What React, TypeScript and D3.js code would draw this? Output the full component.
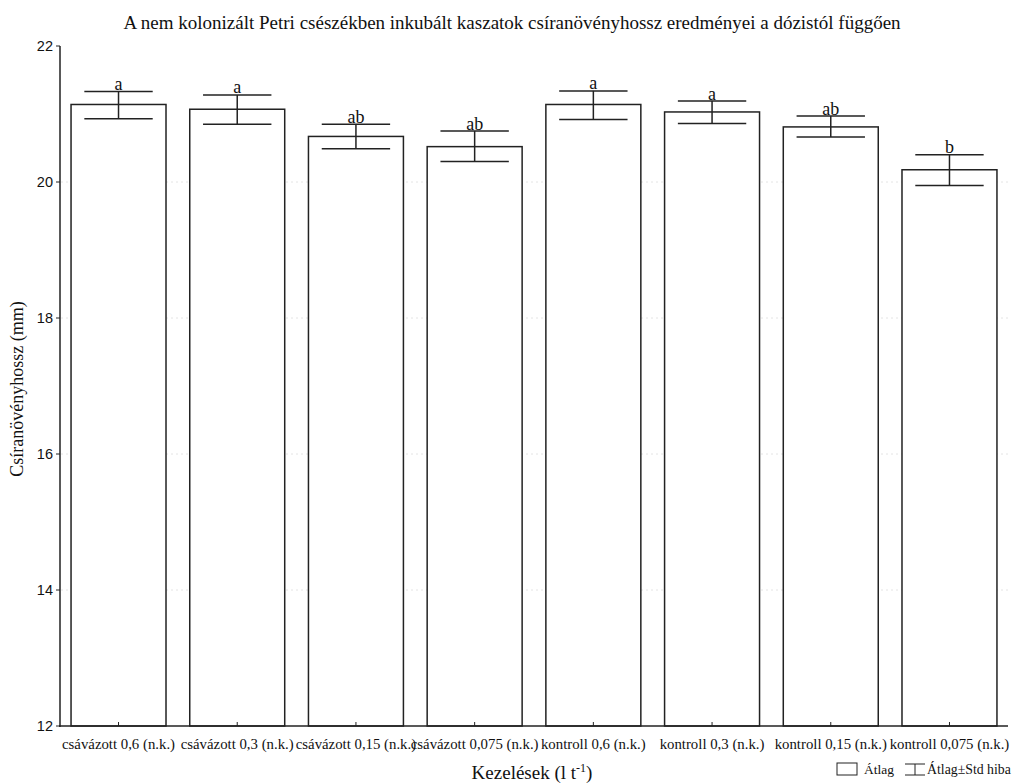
import React from "react";
import * as d3 from "d3";

const categories = [
  "csávázott 0,6 (n.k.)",
  "csávázott 0,3 (n.k.)",
  "csávázott 0,15 (n.k.)",
  "csávázott 0,075 (n.k.)",
  "kontroll 0,6 (n.k.)",
  "kontroll 0,3 (n.k.)",
  "kontroll 0,15 (n.k.)",
  "kontroll 0,075 (n.k.)",
];
const means = [21.14, 21.07, 20.67, 20.52, 21.14, 21.03, 20.81, 20.18];
const errUpper = [21.33, 21.28, 20.85, 20.75, 21.34, 21.19, 20.97, 20.4];
const errLower = [20.93, 20.85, 20.49, 20.3, 20.92, 20.86, 20.66, 19.95];
const letters = ["a", "a", "ab", "ab", "a", "a", "ab", "b"];
const yTicks = [12, 14, 16, 18, 20, 22];

const W = 1014;
const H = 783;
const serif = "'Liberation Serif', 'Times New Roman', serif";
const sans = "'Liberation Sans', Arial, sans-serif";

export default function App() {
  const x = d3
    .scaleBand<string>()
    .domain(categories)
    .range([60, 1008])
    .paddingInner(0.2)
    .paddingOuter(0.093);
  const y = d3.scaleLinear().domain([12, 22]).range([726, 46]);
  const bw = x.bandwidth();
  const capW = bw * 0.72;
  const stroke = "#222";

  return (
    <svg
      width={W}
      height={H}
      style={{ position: "absolute", left: 0, top: 0, background: "#fff" }}
    >
      <rect x={0} y={0} width={W} height={H} fill="#fff" />
      {/* title */}
      <text
        x={512}
        y={29}
        textAnchor="middle"
        fontFamily={serif}
        fontSize={19}
        fill="#111"
      >
        A nem kolonizált Petri csészékben inkubált kaszatok csíranövényhossz eredményei a dózistól függően
      </text>

      {/* gridlines */}
      {yTicks.slice(1, -1).map((t) => (
        <line
          key={"g" + t}
          x1={61}
          x2={1008}
          y1={y(t)}
          y2={y(t)}
          stroke="#e4e4e4"
          strokeWidth={1}
          strokeDasharray="2,3"
        />
      ))}

      {/* bars */}
      {categories.map((c, i) => (
        <rect
          key={"b" + c}
          x={x(c)}
          y={y(means[i])}
          width={bw}
          height={y(12) - y(means[i])}
          fill="#fff"
          stroke={stroke}
          strokeWidth={1.5}
        />
      ))}

      {/* error bars */}
      {categories.map((c, i) => {
        const cx = (x(c) as number) + bw / 2;
        return (
          <g key={"e" + c} stroke={stroke} strokeWidth={1.5}>
            <line x1={cx} x2={cx} y1={y(errUpper[i])} y2={y(errLower[i])} />
            <line
              x1={cx - capW / 2}
              x2={cx + capW / 2}
              y1={y(errUpper[i])}
              y2={y(errUpper[i])}
            />
            <line
              x1={cx - capW / 2}
              x2={cx + capW / 2}
              y1={y(errLower[i])}
              y2={y(errLower[i])}
            />
          </g>
        );
      })}

      {/* letters */}
      {categories.map((c, i) => (
        <text
          key={"l" + c}
          x={(x(c) as number) + bw / 2}
          y={y(errUpper[i]) - 1.5}
          textAnchor="middle"
          fontFamily={serif}
          fontSize={18}
          fill="#111"
        >
          {letters[i]}
        </text>
      ))}

      {/* axes */}
      <line x1={60} x2={60} y1={46} y2={727} stroke={stroke} strokeWidth={1.5} />
      <line x1={59} x2={1008} y1={726} y2={726} stroke={stroke} strokeWidth={1.5} />
      {yTicks.map((t) => (
        <g key={"t" + t}>
          <line x1={56} x2={60} y1={y(t)} y2={y(t)} stroke={stroke} strokeWidth={1} />
          <text
            x={53}
            y={y(t)}
            dy="0.35em"
            textAnchor="end"
            fontFamily={sans}
            fontSize={14.5}
            fill="#111"
          >
            {t}
          </text>
        </g>
      ))}
      {categories.map((c) => {
        const cx = (x(c) as number) + bw / 2;
        return (
          <g key={"x" + c}>
            <line x1={cx} x2={cx} y1={726} y2={722} stroke={stroke} strokeWidth={1} />
            <text
              x={cx}
              y={749}
              textAnchor="middle"
              fontFamily={serif}
              fontSize={14.8}
              fill="#111"
            >
              {c}
            </text>
          </g>
        );
      })}

      {/* axis titles */}
      <text
        transform={`translate(23,389) rotate(-90)`}
        textAnchor="middle"
        fontFamily={serif}
        fontSize={18}
        fill="#111"
      >
        Csíranövényhossz (mm)
      </text>
      <text
        x={532}
        y={779}
        textAnchor="middle"
        fontFamily={serif}
        fontSize={19}
        fill="#111"
      >
        Kezelések (l t
        <tspan dy={-7} fontSize={12}>
          -1
        </tspan>
        <tspan dy={7}>)</tspan>
      </text>

      {/* legend */}
      <rect x={837} y={763} width={20} height={12} fill="#fff" stroke={stroke} strokeWidth={1} />
      <text x={864} y={774} fontFamily={serif} fontSize={13.5} fill="#111">
        Átlag
      </text>
      <g stroke={stroke} strokeWidth={1}>
        <line x1={905} x2={925} y1={764} y2={764} />
        <line x1={915} x2={915} y1={764} y2={775} />
        <line x1={905} x2={925} y1={775} y2={775} />
      </g>
      <text x={927} y={774} fontFamily={serif} fontSize={13.8} fill="#111">
        Átlag±Std hiba
      </text>
    </svg>
  );
}
